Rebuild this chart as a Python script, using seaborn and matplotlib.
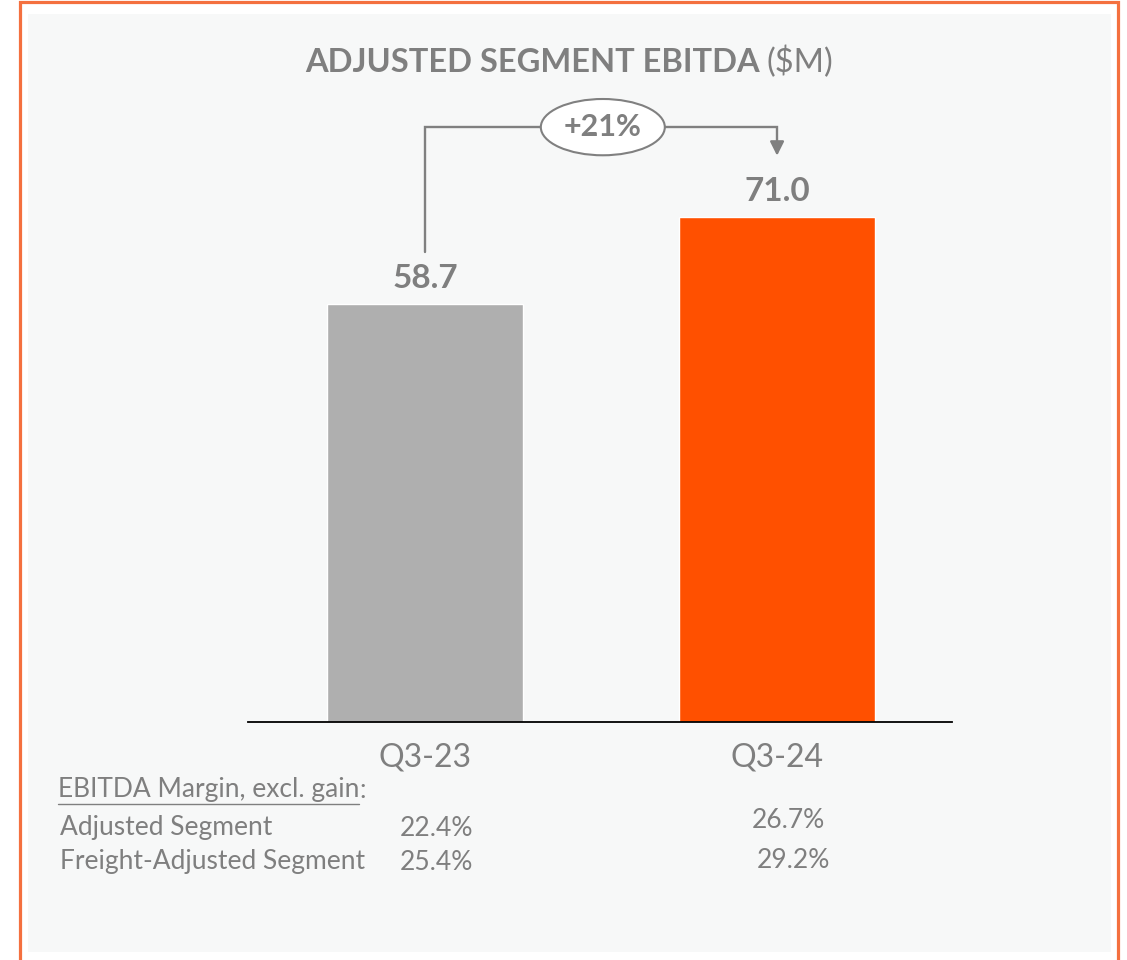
import matplotlib
matplotlib.use("Agg")
import matplotlib.pyplot as plt
import seaborn as sns
import pandas as pd
from matplotlib.patches import Rectangle, Ellipse
from matplotlib.lines import Line2D

# ---- data ----
categories = ["Q3-23", "Q3-24"]
values = [58.7, 71.0]
value_labels = ["58.7", "71.0"]
bar_colors = ["#AFAFAF", "#FF5000"]
change_label = "+21%"
margin_header = "EBITDA Margin, excl. gain"
margin_rows = ["Adjusted Segment", "Freight-Adjusted Segment"]
margin_q323 = ["22.4%", "25.4%"]
margin_q324 = ["26.7%", "29.2%"]

W, H = 1127, 960
TXT = "#7F7F7F"
sns.set_theme(style="white")
plt.rcParams['font.family'] = ['Lato', 'DejaVu Sans']

fig = plt.figure(figsize=(W / 100, H / 100), dpi=100)
fig.patch.set_facecolor("white")

def fx(px):
    return px / W

def fy(py):
    return 1 - py / H

# border and panel
fig.patches.append(Rectangle((fx(28), fy(952)), fx(1111) - fx(28), fy(14) - fy(952),
                             transform=fig.transFigure, facecolor="#F7F8F8", edgecolor="none", zorder=-3))
fig.patches.append(Rectangle((fx(20), fy(975)), fx(1118) - fx(20), fy(2.5) - fy(975),
                             transform=fig.transFigure, facecolor="none", edgecolor="#F4703F",
                             linewidth=2.3, zorder=-2))

# axes
ax = fig.add_axes([fx(248), fy(722), fx(952) - fx(248), fy(14) - fy(722)])
ax.set_zorder(2)
ax.set_facecolor("none")
df = pd.DataFrame({"period": categories, "value": values})
sns.barplot(data=df, x="period", y="value", hue="period", palette=bar_colors,
            width=0.557, legend=False, ax=ax, saturation=1)
ax.set_xlim(-0.503, 1.497)
ax.set_ylim(0, 99.5)
for s in ["top", "right", "left"]:
    ax.spines[s].set_visible(False)
ax.spines["bottom"].set_color("black")
ax.spines["bottom"].set_linewidth(1.3)
ax.set_yticks([])
ax.set_xlabel("")
ax.set_ylabel("")
ax.tick_params(axis="x", length=0, pad=15, labelsize=23, labelcolor=TXT)

# value labels
for i, (v, lab) in enumerate(zip(values, value_labels)):
    ax.annotate(lab, (i, v), xytext=(0, 8), textcoords="offset points",
                ha="center", va="bottom", fontsize=24, fontweight="bold", color=TXT)

# bracket arrow
y_br = max(values) + 12.6
y_start = values[0] + 7.3
y_tip = values[1] + 8.2
ax.plot([0, 0, 1, 1], [y_start, y_br, y_br, y_tip + 1.5], color="#808080", lw=1.7,
        solid_joinstyle="miter", clip_on=False)
ax.annotate("", xy=(1, y_tip), xytext=(1, y_tip + 2.0),
            arrowprops=dict(arrowstyle="-|>,head_length=0.7,head_width=0.35",
                            color="#808080", lw=1.7), annotation_clip=False)
xm = 0.505
ax.add_patch(Ellipse((xm, y_br), 124 / 352, 56 / 7.08, facecolor="white",
                     edgecolor="#808080", lw=1.5, clip_on=False, zorder=5))
ax.text(xm, y_br, change_label, ha="center", va="center", fontsize=22,
        fontweight="bold", color=TXT, zorder=6)

# title
t1 = fig.text(fx(305), fy(62), "ADJUSTED SEGMENT EBITDA", ha="left", va="center",
              fontsize=23.5, fontweight="bold", color=TXT)
fig.canvas.draw()
r = fig.canvas.get_renderer()
bb = t1.get_window_extent(r)
fig.text(bb.x1 / W + fx(7), fy(62), "($M)", ha="left", va="center", fontsize=23.5, color=TXT)

# margin table
FS = 19
hdr = fig.text(fx(58), fy(790), margin_header, ha="left", va="center", fontsize=FS, color=TXT)
fig.canvas.draw()
hb = hdr.get_window_extent(r)
fig.text(hb.x1 / W, fy(790), ":", ha="left", va="center", fontsize=FS, color=TXT)
fig.lines.append(Line2D([hb.x0 / W, hb.x1 / W], [hb.y0 / H - 1 / H] * 2,
                        transform=fig.transFigure, color=TXT, lw=1.0))

row_y = [828, 862]
q324_y = [820, 860]
q324_x = [752, 757]
for i, name in enumerate(margin_rows):
    fig.text(fx(60), fy(row_y[i]), name, ha="left", va="center", fontsize=FS, color=TXT)
    fig.text(fx(400), fy(row_y[i]), margin_q323[i], ha="left", va="center", fontsize=FS, color=TXT)
    fig.text(fx(q324_x[i]), fy(q324_y[i]), margin_q324[i], ha="left", va="center", fontsize=FS, color=TXT)

fig.savefig("out.png", dpi=100)
